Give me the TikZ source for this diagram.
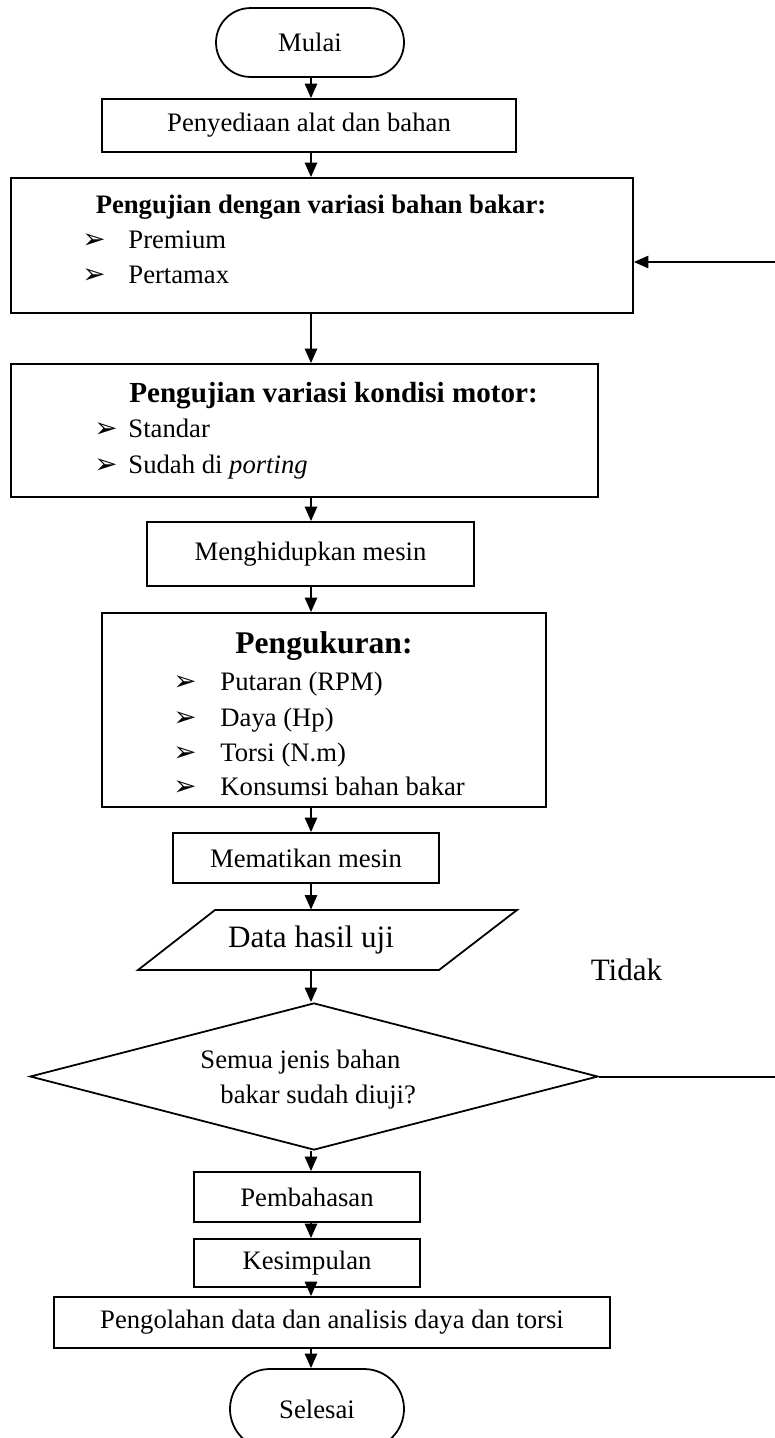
\documentclass[tikz,border=0pt]{standalone}
\usepackage{fontspec}
\setmainfont{Liberation Serif}
\newfontfamily\symfont{DejaVu Sans}
\usetikzlibrary{shapes.misc,shapes.geometric,arrows.meta}
\newcommand{\tanda}[1]{\makebox[#1][l]{\symfont\fontsize{12.5}{14}\selectfont ➢}}

\begin{document}
\begin{tikzpicture}[x=0.45pt,y=-0.45pt,
    every node/.style={font=\fontsize{12}{14.4}\selectfont},
    blok/.style={draw,line width=0.8pt,inner sep=0pt},
    ujung/.style={draw,line width=0.8pt,rounded rectangle,inner sep=0pt},
    teks/.style={inner sep=0pt,anchor=base west},
    judul/.style={inner sep=0pt,anchor=base},
    panah/.style={line width=0.9pt,-{Triangle[length=6.5pt,width=5.5pt]}}]
  \useasboundingbox (0,0) rectangle (775,1438);
  \coordinate (sumbu) at (311,0);
  \coordinate (balik) at (780,262);
  \node[ujung,minimum width=84.6pt,minimum height=31pt] (mulai) at (310,42.5) {Mulai};
  \node[blok,minimum width=186.3pt,minimum height=23.85pt] (siap) at (309,125.5) {Penyediaan alat dan bahan};
  \node[blok,minimum width=279.9pt,minimum height=60.75pt] (bbm) at (322,245.5) {};
  \node[judul,font=\fontsize{12}{14.4}\selectfont\bfseries] (bbm0) at (321,213) {Pengujian dengan variasi bahan bakar:};
  \node[teks] (bbm1) at (82,248) {\tanda{20.7pt}Premium};
  \node[teks] (bbm2) at (82,283) {\tanda{20.7pt}Pertamax};
  \node[blok,minimum width=264.15pt,minimum height=59.85pt] (kond) at (304.5,430.5) {};
  \node[judul,font=\fontsize{13.1}{15.6}\selectfont\bfseries] (kond0) at (333.5,402) {Pengujian variasi kondisi motor:};
  \node[teks] (kond1) at (94,437) {\tanda{15.3pt}Standar};
  \node[teks] (kond2) at (94,473) {\tanda{15.3pt}Sudah di \textit{porting}};
  \node[blok,minimum width=147.15pt,minimum height=28.8pt] (hidup) at (310.5,554) {Menghidupkan mesin};
  \node[blok,minimum width=199.8pt,minimum height=87.3pt] (ukur) at (324,710) {};
  \node[judul,font=\fontsize{14.2}{16.8}\selectfont\bfseries] (ukur0) at (324,653) {Pengukuran:};
  \node[teks] (ukur1) at (173,690) {\tanda{21.15pt}Putaran (RPM)};
  \node[teks] (ukur2) at (173,726) {\tanda{21.15pt}Daya (Hp)};
  \node[teks] (ukur3) at (173,761) {\tanda{21.15pt}Torsi (N.m)};
  \node[teks] (ukur4) at (173,795) {\tanda{21.15pt}Konsumsi bahan bakar};
  \node[blok,minimum width=119.7pt,minimum height=22.5pt] (mati) at (306,858) {Mematikan mesin};
  \node[inner sep=0pt,minimum height=27pt,font=\fontsize{14}{16.8}\selectfont] (data) at (311,940) {Data hasil uji};
  \draw[line width=0.8pt] (215,910) -- (517,910) -- (439,970) -- (138,970) -- cycle;
  \node[judul,font=\fontsize{14}{16.8}\selectfont] (tidak) at (626.5,980) {Tidak};
  \node[draw,line width=0.8pt,diamond,aspect=3.86,inner sep=0pt,minimum width=255.6pt,minimum height=66.15pt] (cek) at (314,1076.5) {};
  \node[teks] (cek1) at (200,1068) {Semua jenis bahan};
  \node[teks] (cek2) at (220,1103) {bakar sudah diuji?};
  \node[blok,minimum width=101.7pt,minimum height=22.5pt] (bahas) at (307,1197) {Pembahasan};
  \node[blok,minimum width=101.7pt,minimum height=21.6pt] (simpul) at (307,1263) {Kesimpulan};
  \node[blok,minimum width=250.2pt,minimum height=22.95pt] (olah) at (332,1322.5) {Pengolahan data dan analisis daya dan torsi};
  \node[ujung,minimum width=78.3pt,minimum height=36pt] (selesai) at (317,1409) {Selesai};
  \draw[panah] (mulai.south -| sumbu) -- (siap.north -| sumbu);
  \draw[panah] (siap.south -| sumbu) -- (bbm.north -| sumbu);
  \draw[panah] (bbm.south -| sumbu) -- (kond.north -| sumbu);
  \draw[panah] (kond.south -| sumbu) -- (hidup.north -| sumbu);
  \draw[panah] (hidup.south -| sumbu) -- (ukur.north -| sumbu);
  \draw[panah] (ukur.south -| sumbu) -- (mati.north -| sumbu);
  \draw[panah] (mati.south -| sumbu) -- (data.north -| sumbu);
  \draw[panah] (data.south -| sumbu) -- (cek.north -| sumbu);
  \draw[panah] (cek.south -| sumbu) -- (bahas.north -| sumbu);
  \draw[panah] (bahas.south -| sumbu) -- (simpul.north -| sumbu);
  \draw[panah] (simpul.south -| sumbu) -- (olah.north -| sumbu);
  \draw[panah] (olah.south -| sumbu) -- (selesai.north -| sumbu);
  \draw[panah] (cek.east) -| (balik) -- (balik -| bbm.east);
\end{tikzpicture}
\end{document}
